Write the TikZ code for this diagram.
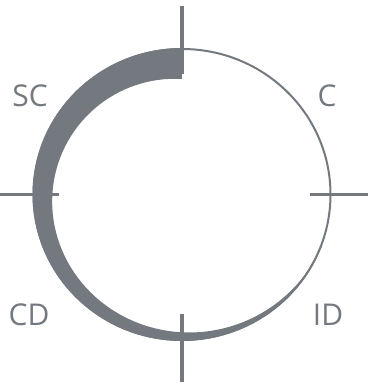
\documentclass[tikz,border=0pt]{standalone}
\usepackage{fontspec}
\setmainfont{Open Sans}
\definecolor{ringgray}{RGB}{115,121,127}
\newcommand{\bandw}[1]{31*(1-(#1-90)/250)}

\begin{document}
\begin{tikzpicture}[x=1pt, y=1pt, line width=2pt]
  \tikzset{lbl/.style={inner sep=0pt, text=ringgray, font=\fontsize{30}{36}\selectfont}}
  \useasboundingbox (-182,-191.5) rectangle (186,194.5);
  \draw[ringgray] (0,0) ellipse [x radius=148.5, y radius=145.5];
  \fill[ringgray] plot[domain=90:340, samples=90] ({149.5*cos(\x)},{146.5*sin(\x)})
    -- plot[domain=340:90, samples=90] ({(149.5-\bandw{\x})*cos(\x)},{(146.5-\bandw{\x})*sin(\x)}) -- cycle;
  \foreach \a/\b in {{(0,188.5)}/{(0,120)}, {(-182,0)}/{(-123,0)}, {(128,0)}/{(186,0)}, {(0,-119.5)}/{(0,-187.5)}}
    { \draw[ringgray, line width=3.5pt] \a -- \b; }
  \node[lbl] (sc) at (-152,98.5) {SC};
  \node[lbl] (c) at (145,98.5) {C};
  \node[lbl] (cd) at (-153,-120.5) {CD};
  \node[lbl] (id) at (146,-120.5) {ID};
\end{tikzpicture}
\end{document}
